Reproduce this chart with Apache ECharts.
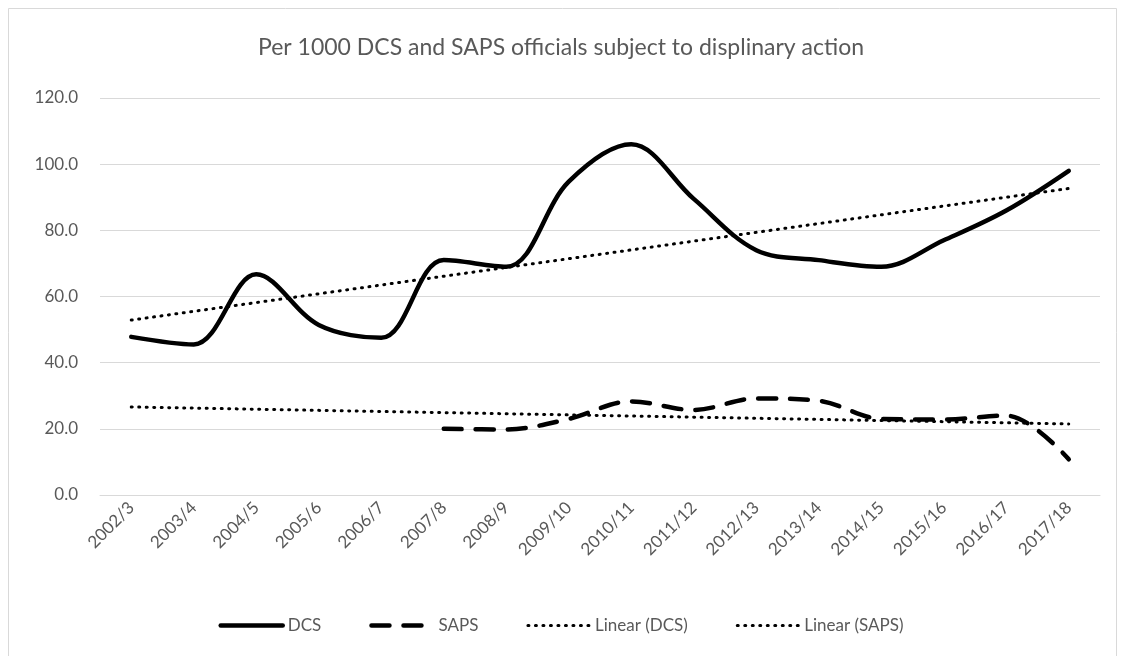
<!DOCTYPE html>
<html><head><meta charset="utf-8">
<script src="https://cdn.jsdelivr.net/npm/echarts@6/dist/echarts.min.js"></script>
<style>html,body{margin:0;padding:0;background:#fff}#c{width:1122px;height:656px}</style>
</head><body><div id="c"></div>
<script>
const categories = ['2002/3','2003/4','2004/5','2005/6','2006/7','2007/8','2008/9','2009/10','2010/11','2011/12','2012/13','2013/14','2014/15','2015/16','2016/17','2017/18'];
const dcs = [47.8, 45.5, 66.7, 51.4, 47.5, 71.0, 69.0, 94.7, 106.0, 89.5, 74.0, 71.0, 69.0, 77.0, 86.0, 98.0];
const saps = [null, null, null, null, null, 20.0, 19.8, 23.0, 28.3, 25.7, 29.2, 28.5, 23.0, 22.8, 24.0, 10.8];
const seriesNames = ['DCS', 'SAPS', 'Linear (DCS)', 'Linear (SAPS)'];
const titleText = 'Per 1000 DCS and SAPS officials subject to displinary action';

// least-squares linear trend (as the spreadsheet's trendline), fitted on the non-empty points
function linearTrend(vals) {
  const pts = vals.map((v, i) => [i, v]).filter(p => p[1] != null);
  const n = pts.length;
  const mx = pts.reduce((s, p) => s + p[0], 0) / n;
  const my = pts.reduce((s, p) => s + p[1], 0) / n;
  let sxy = 0, sxx = 0;
  pts.forEach(p => { sxy += (p[0] - mx) * (p[1] - my); sxx += (p[0] - mx) * (p[0] - mx); });
  const b = sxy / sxx, a = my - b * mx;
  return vals.map((v, i) => +(a + b * i).toFixed(3));
}

const FONT = 'Lato, "Open Sans", sans-serif';
const GREY = '#595959';
const chart = echarts.init(document.getElementById('c'), null, {renderer: 'canvas'});
const solid = {color: '#000', width: 4.5, cap: 'round'};
const dashed = {color: '#000', width: 4.5, type: [18, 14], cap: 'round'};
const dotted = {color: '#000', width: 3, type: [1, 6.5], cap: 'round'};
chart.setOption({
  animation: false,
  backgroundColor: '#fff',
  graphic: [{type: 'rect', shape: {x: 8.5, y: 8.5, width: 1108, height: 700}, style: {fill: 'none', stroke: '#d9d9d9', lineWidth: 1}, silent: true}],
  title: {text: titleText, left: 'center', top: 31, textStyle: {fontFamily: FONT, fontSize: 23, fontWeight: 'normal', color: GREY}},
  grid: {left: 100, right: 22, top: 98, bottom: 161, containLabel: false},
  legend: {
    bottom: 17, left: 'center', itemWidth: 62, itemHeight: 14, itemGap: 48,
    itemStyle: {opacity: 0},
    data: [
      {name: seriesNames[0], lineStyle: {width: 4.5}},
      {name: seriesNames[1], lineStyle: {width: 4.5}},
      {name: seriesNames[2], lineStyle: {width: 3}},
      {name: seriesNames[3], lineStyle: {width: 3}}
    ],
    textStyle: {fontFamily: FONT, fontSize: 17, color: GREY}
  },
  xAxis: {
    type: 'category', data: categories, boundaryGap: true,
    axisLine: {show: true, lineStyle: {color: '#d9d9d9', width: 1}},
    axisTick: {show: false},
    axisLabel: {rotate: 45, interval: 0, margin: 10, fontFamily: FONT, fontSize: 17, color: GREY}
  },
  yAxis: {
    type: 'value', min: 0, max: 120, interval: 20,
    axisLine: {show: false}, axisTick: {show: false},
    splitLine: {lineStyle: {color: '#d9d9d9', width: 1}},
    axisLabel: {margin: 22, fontFamily: FONT, fontSize: 17, color: GREY, formatter: v => v.toFixed(1)}
  },
  series: [
    {name: seriesNames[0], type: 'line', data: dcs, smooth: 0.35, showSymbol: false, z: 5,
     lineStyle: solid, itemStyle: {color: '#000'}},
    {name: seriesNames[1], type: 'line', data: saps, smooth: 0.35, showSymbol: false, z: 5,
     lineStyle: dashed, itemStyle: {color: '#000'}},
    {name: seriesNames[2], type: 'line', data: linearTrend(dcs), showSymbol: false, z: 4,
     lineStyle: dotted, itemStyle: {color: '#000'}},
    {name: seriesNames[3], type: 'line', data: linearTrend(saps), showSymbol: false, z: 4,
     lineStyle: dotted, itemStyle: {color: '#000'}}
  ]
});
</script></body></html>
